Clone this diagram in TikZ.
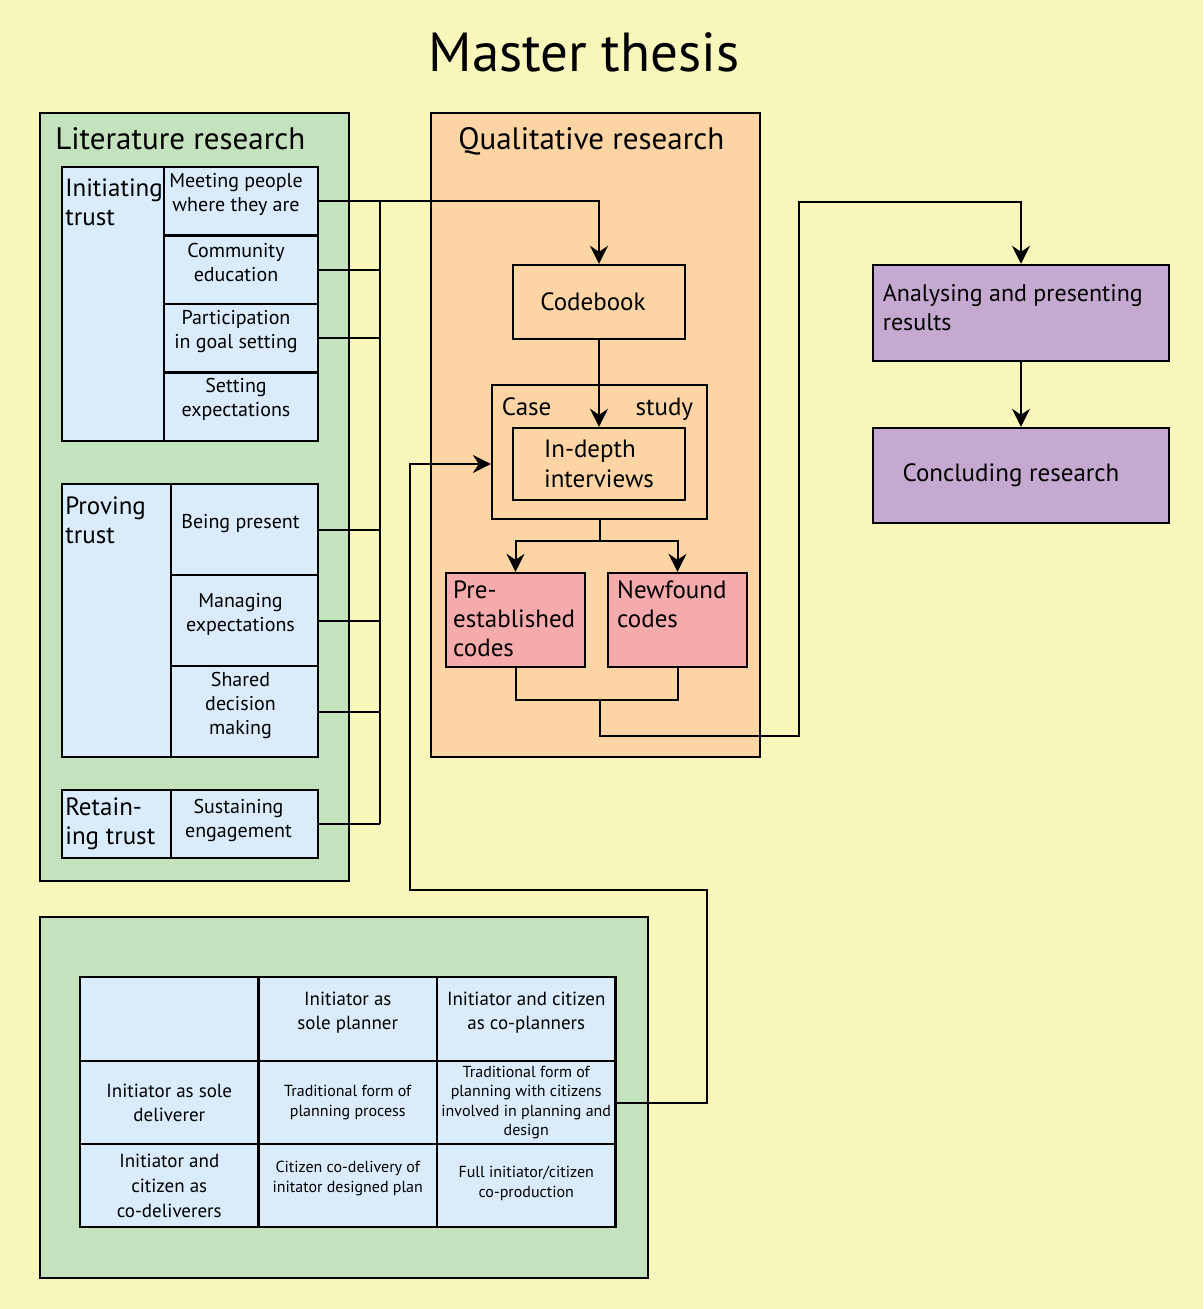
\documentclass[tikz,border=0pt]{standalone}
\usepackage{fontspec}
\setmainfont{PT Sans}
\usetikzlibrary{arrows.meta}

\definecolor{paper}{RGB}{248,246,186}
\definecolor{litgreen}{RGB}{196,226,190}
\definecolor{cellblue}{RGB}{218,236,251}
\definecolor{qualorange}{RGB}{253,212,163}
\definecolor{codepink}{RGB}{245,170,172}
\definecolor{endpurple}{RGB}{197,169,208}

\tikzset{
  sz/.style 2 args={minimum width={#1*0.5pt},minimum height={#2*0.5pt}},
  panel/.style={draw,line width=1.2pt,inner sep=0pt},
  cell/.style={draw,line width=1.1pt,fill=cellblue,inner sep=0pt},
  small/.style={font=\fontsize{10}{12}\selectfont,align=center},
  mid/.style={font=\fontsize{12.5}{14.5}\selectfont,align=left,inner sep=2pt},
  boxtext/.style={font=\fontsize{12.5}{15}\selectfont},
  head/.style={font=\fontsize{15.5}{19}\selectfont,inner sep=0pt},
  tiny/.style={font=\fontsize{8}{9.75}\selectfont,align=center},
  wire/.style={line width=1pt},
  arrow/.style={wire,-{Stealth[length=9pt,width=9pt,inset=3pt]}}
}

\begin{document}
\begin{tikzpicture}[x=0.5pt,y=-0.5pt]
   \useasboundingbox (0,0) rectangle (1203,1309);
   \fill[paper] (0,0) rectangle (1203,1309);
   \node[font=\fontsize{27.5}{32}\selectfont] (title) at (584,52) {Master thesis};

   % literature research
   \node[panel,fill=litgreen,sz={309}{768}] (lit) at (194.5,497) {};
   \node[head,anchor=base west] (litT) at (55,150) {Literature research};

   \node[cell,sz={102}{274}] (init) at (113,304) {};
   \node[mid,anchor=north west] (initT) at ([yshift=-4.5pt]init.north west) {Initiating\\trust};
   \foreach \txt [count=\i] in {{Meeting people\\where they are},{Community\\education},
       {Participation\\in goal setting},{Setting\\expectations}} {
       \node[cell,sz={154}{68.5}] (it\i) at (241,{167+68.5*(\i-0.5)}) {};
       \node[small] (it\i t) at ([xshift=-2.5pt,yshift=3.5pt]it\i.center) {\txt};}

   \node[cell,sz={109}{273}] (prov) at (116.5,620.5) {};
   \node[mid,anchor=north west] (provT) at ([yshift=-4.5pt]prov.north west) {Proving\\trust};
   \foreach \txt [count=\i] in {{Being present},{Managing\\expectations},
       {Shared\\decision\\making}} {
       \node[cell,sz={147}{91}] (pt\i) at (244.5,{484+91*(\i-0.5)}) {};
       \node[small] (pt\i t) at ([xshift=-2pt,yshift=3pt]pt\i.center) {\txt};}

   \node[cell,sz={109}{68}] (ret) at (116.5,824) {};
   \node[mid,anchor=north west] (retT) at ([yshift=-2pt]ret.north west) {Retain-\\ing trust};
   \node[cell,sz={147}{68}] (st1) at (244.5,824) {};
   \node[small] (st1t) at ([xshift=-3pt,yshift=2pt]st1.center) {Sustaining\\engagement};

   % qualitative research
   \node[panel,fill=qualorange,sz={329}{644}] (qual) at (595.5,435) {};
   \node[head,anchor=base west] (qualT) at (458,150) {Qualitative research};
   \node[panel,sz={172}{74}] (code) at (599,302) {};
   \node[boxtext] (codeT) at ([xshift=-3pt]code.center) {Codebook};
   \node[panel,sz={215}{134}] (case) at (599.5,452) {};
   \node[boxtext,anchor=north west] (caseL) at ([xshift=2pt,yshift=-3.5pt]case.north west) {Case};
   \node[boxtext,anchor=north east] (caseR) at ([xshift=-4pt,yshift=-3.5pt]case.north east) {study};
   \node[panel,sz={172}{72},boxtext,align=left] (indepth) at (599,464) {In-depth\\interviews};
   \node[panel,fill=codepink,sz={139}{94}] (pre) at (515.5,620) {};
   \node[mid,anchor=north west] (preT) at ([xshift=2pt,yshift=-2.5pt]pre.north west) {Pre-\\established\\codes};
   \node[panel,fill=codepink,sz={139}{94}] (new) at (677.5,620) {};
   \node[mid,anchor=north west] (newT) at ([xshift=3pt,yshift=-2.5pt]new.north west) {Newfound\\codes};

   % results
   \node[panel,fill=endpurple,sz={296}{96}] (anal) at (1021,313) {};
   \node[boxtext,font=\fontsize{12}{14.5}\selectfont,align=left,anchor=north west] (analT) at ([xshift=2pt,yshift=-7pt]anal.north west) {Analysing and presenting\\results};
   \node[panel,fill=endpurple,sz={296}{95},boxtext] (conc) at (1021,475.5) {\hspace{-10pt}Concluding research};

   % typology table
   \node[panel,fill=litgreen,sz={608}{361}] (typ) at (344,1097.5) {};
   \foreach \txt [count=\i] in {{},{Initiator as\\sole planner},{Initiator and citizen\\as co-planners}} {
       \node[cell,sz={178.5}{84},small,font=\fontsize{9.5}{12}\selectfont] (c1\i) at ({80+178.5*(\i-0.5)},1019) {\txt\\[-4pt]};}
   \node[cell,sz={178.5}{83},small,font=\fontsize{9.5}{12}\selectfont] (c21) at (169.25,1102.5) {Initiator as sole\\deliverer};
   \node[cell,sz={178.5}{83},tiny] (c22) at (347.75,1102.5) {Traditional form of\\planning process};
   \node[cell,sz={178.5}{83},tiny] (c23) at (526.25,1102.5) {Traditional form of\\planning with citizens\\involved in planning and\\design};
   \node[cell,sz={178.5}{83},small,font=\fontsize{9.5}{12.5}\selectfont] (c31) at (169.25,1185.5) {Initiator and\\citizen as\\co-deliverers};
   \node[cell,sz={178.5}{83},tiny] (c32) at (347.75,1185.5) {Citizen co-delivery of\\initator designed plan\\[-1pt]};
   \node[cell,sz={178.5}{83},tiny] (c33) at (526.25,1185.5) {Full initiator/citizen\\co-production\\[-6pt]};

   % connectors
   \coordinate (bus) at (380,0);
   \draw[arrow] (it1.east) -| (code.north);
   \foreach \c in {it2,it3,pt1,pt2,pt3,st1}
       \draw[wire] (\c.east) -- (\c.east -| bus);
   \draw[wire] (it1.east -| bus) -- (st1.east -| bus);
   \draw[arrow] (code.south) -- (indepth.north);
   \coordinate (split) at (599.5,541);
   \draw[wire] (case.south) -- (split);
   \draw[arrow] (split) -| (pre.north);
   \draw[arrow] (split) -| (new.north);
   \coordinate (mrg) at (599.5,700);
   \draw[wire] (pre.south) |- (mrg) -| (new.south);
   \coordinate (outB) at (799,736);
   \coordinate (outT) at (799,202);
   \draw[arrow] (mrg) |- (outB) -- (outT) -| (anal.north);
   \draw[arrow] (anal.south) -- (conc.north);
   \coordinate (loopR) at (707,890);
   \coordinate (loopL) at (410,890);
   \draw[arrow] (c23.east) -| (loopR) -- (loopL) |- (case.west |- indepth.center);
\end{tikzpicture}
\end{document}
